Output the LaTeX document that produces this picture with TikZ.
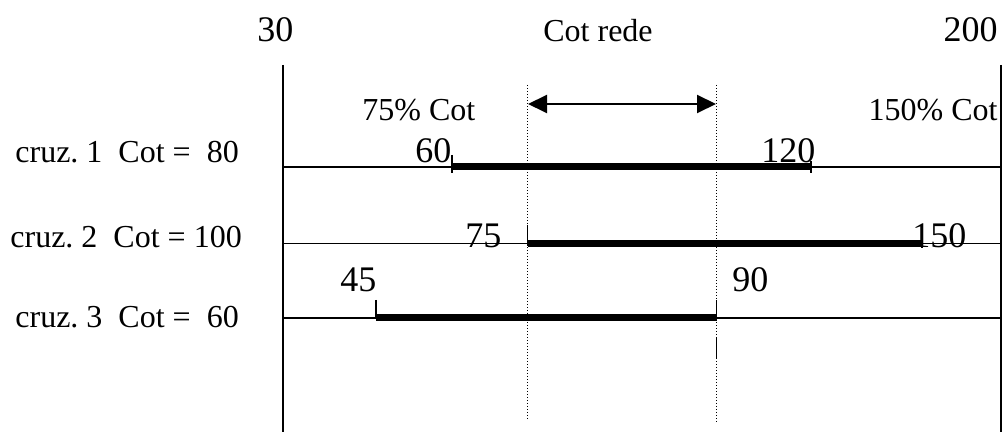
\documentclass[tikz,border=0pt]{standalone}
\usepackage{fontspec}
\setmainfont{Liberation Serif}
\usetikzlibrary{arrows.meta}
\tikzset{
  axisline/.style={line width=1pt},
  rowline/.style={line width=0.75pt},
  bar/.style={line width=3.5pt},
  endtick/.style={line width=0.9pt},
  guide/.style={line width=0.6pt, dash pattern=on 0.6pt off 0.9pt},
  lbl/.style={font=\fontsize{16}{19}\selectfont, inner sep=0pt},
  num/.style={font=\fontsize{18}{21}\selectfont, inner sep=0pt},
}

\begin{document}
\begin{tikzpicture}[x=0.5pt, y=-0.5pt]
  \useasboundingbox (0,0) rectangle (1002,432);

  % Scale ends and header
  \node[num, anchor=base west] (lo) at (257,42) {30};
  \node[num, anchor=base east] (hi) at (998,42) {200};
  \node[lbl, anchor=base] (rede) at (598,42) {Cot rede};
  \node[lbl, anchor=base west] (pct75) at (362,121) {75\% Cot};
  \node[lbl, anchor=base east] (pct150) at (998,121) {150\% Cot};

  % Axes
  \coordinate (lotop) at (283,65);  \coordinate (lobot) at (283,432);
  \coordinate (hitop) at (1001,65); \coordinate (hibot) at (1001,432);
  \draw[axisline] (lotop) -- (lobot);
  \draw[axisline] (hitop) -- (hibot);

  % Guides at 75 and 90
  \coordinate (g1top) at (527.5,85);  \coordinate (g1bot) at (527.5,420);
  \coordinate (g2top) at (716.5,85);  \coordinate (g2bot) at (716.5,422);
  \draw[guide] (g1top) -- (g1bot);
  \draw[guide] (g2top) -- (g2bot);
  \coordinate (ra) at (528,104); \coordinate (rb) at (716,104);
  \draw[line width=1pt, {Triangle[length=9.5pt,width=9pt]}-{Triangle[length=9.5pt,width=9pt]}] (ra) -- (rb);

  % Row labels
  \node[lbl, anchor=base west] (c1) at (15,163) {cruz.\ 1\ \ Cot =\ \ 80};
  \node[lbl, anchor=base west] (c2) at (10,248) {cruz.\ 2\ \ Cot = 100};
  \node[lbl, anchor=base west] (c3) at (15,328) {cruz.\ 3\ \ Cot =\ \ 60};

  % Rows
  \foreach \y in {167,243.5,318}
    \draw[rowline] (283,\y) -- (1001,\y);

  % cruz. 1
  \coordinate (a1) at (452,167); \coordinate (b1) at (811,167);
  \draw[bar] (a1) -- (b1);
  \draw[endtick] (452,155) -- (452,173);
  \draw[endtick] (811,161) -- (811,173);
  \node[num, anchor=base west] (n60) at (415,163) {60};
  \node[num, anchor=base west] (n120) at (761,163) {120};

  % cruz. 2
  \coordinate (a2) at (527.5,243.5); \coordinate (b2) at (922,243.5);
  \draw[bar] (a2) -- (b2);
  \draw[endtick] (527.5,225) -- (527.5,246);
  \draw[endtick] (922,225) -- (922,248);
  \node[num, anchor=base west] (n75) at (465,248) {75};
  \node[num, anchor=base west] (n150) at (912,248) {150};

  % cruz. 3
  \coordinate (a3) at (376,318); \coordinate (b3) at (716.5,318);
  \draw[bar] (a3) -- (b3);
  \draw[endtick] (376,300) -- (376,318);
  \draw[endtick] (716.5,300) -- (716.5,318);
  \draw[endtick] (716.5,338) -- (716.5,358);
  \node[num, anchor=base west] (n45) at (340,292) {45};
  \node[num, anchor=base west] (n90) at (732,292) {90};
\end{tikzpicture}
\end{document}
